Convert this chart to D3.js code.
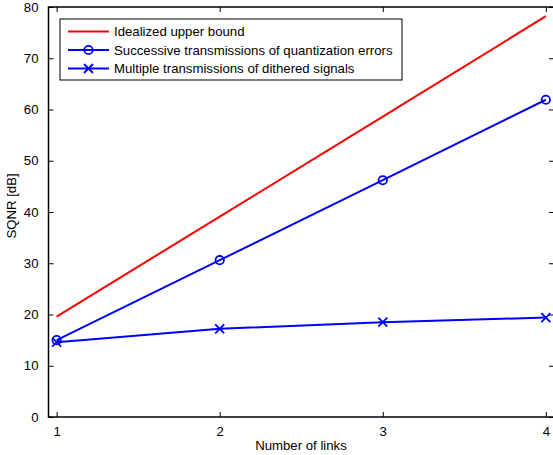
<!DOCTYPE html>
<html>
<head>
<meta charset="utf-8">
<script src="https://cdn.jsdelivr.net/npm/d3@7"></script>
<style>
  body { margin: 0; background: #fff; }
  text { font-family: "Liberation Sans", Arial, sans-serif; }
</style>
</head>
<body>
<div id="canvas"></div>
<script>
// DATA
const links = [1, 2, 3, 4];
const upperBound = [19.6, 39.1, 58.6, 78.2];
const successive = [15.0, 30.6, 46.2, 61.9];
const dithered = [14.6, 17.2, 18.5, 19.4];
const yTicks = [0, 10, 20, 30, 40, 50, 60, 70, 80];
const seriesNames = [
  "Idealized upper bound",
  "Successive transmissions of quantization errors",
  "Multiple transmissions of dithered signals"
];

// DIMENSIONS
const width = 553;
const height = 455;
const margin = { top: 7, right: -1, bottom: 38, left: 48.5 };
const fontSize = "13.2px";

const svg = d3.select("#canvas")
  .append("svg")
  .attr("width", width)
  .attr("height", height);

// SCALES
const x = d3.scaleLinear().domain([0.95, 4.05]).range([margin.left, width - margin.right]);
const y = d3.scaleLinear().domain([0, 80]).range([height - margin.bottom, margin.top]);

const x0 = margin.left, x1 = width - margin.right;
const y0 = height - margin.bottom, y1 = margin.top;

// AXES (ticks inside, on all four sides)
const tick = 5;
const axisStyle = g => {
  g.select(".domain").remove();
  g.selectAll("line").attr("stroke", "#000").attr("stroke-width", 1);
  g.selectAll("text").attr("fill", "#000").style("font-size", fontSize);
};

svg.append("g")
  .attr("transform", `translate(0,${y0})`)
  .call(d3.axisBottom(x).tickValues(links).tickFormat(d3.format("d")).tickSizeInner(-tick).tickPadding(10))
  .call(axisStyle);

svg.append("g")
  .attr("transform", `translate(0,${y1})`)
  .call(d3.axisTop(x).tickValues(links).tickFormat("").tickSizeInner(-tick))
  .call(axisStyle);

svg.append("g")
  .attr("transform", `translate(${x0},0)`)
  .call(d3.axisLeft(y).tickValues(yTicks).tickSizeInner(-tick).tickPadding(10))
  .call(axisStyle);

svg.append("g")
  .attr("transform", `translate(${x1},0)`)
  .call(d3.axisRight(y).tickValues(yTicks).tickFormat("").tickSizeInner(-tick))
  .call(axisStyle);

// box
svg.append("rect")
  .attr("x", x0).attr("y", y1)
  .attr("width", x1 - x0).attr("height", y0 - y1)
  .attr("fill", "none").attr("stroke", "#000").attr("stroke-width", 1.5);

// LABELS
svg.append("text")
  .attr("x", 301).attr("y", 450)
  .attr("text-anchor", "middle")
  .style("font-size", fontSize)
  .text("Number of links");

svg.append("text")
  .attr("transform", `translate(15.5,206) rotate(-90)`)
  .attr("text-anchor", "middle")
  .style("font-size", fontSize)
  .text("SQNR [dB]");

// LINES
const line = d3.line().x((d, i) => x(links[i])).y(d => y(d));

const series = [
  { values: upperBound, color: "#ff0000", marker: "none" },
  { values: successive, color: "#0000ff", marker: "circle" },
  { values: dithered, color: "#0000ff", marker: "cross" }
];

function drawMarker(g, kind, cx, cy, color) {
  if (kind === "circle") {
    g.append("circle").attr("cx", cx).attr("cy", cy).attr("r", 4.2)
      .attr("fill", "none").attr("stroke", color).attr("stroke-width", 1.8);
  } else if (kind === "cross") {
    const s = 4.5;
    g.append("path")
      .attr("d", `M${cx - s},${cy - s}L${cx + s},${cy + s}M${cx - s},${cy + s}L${cx + s},${cy - s}`)
      .attr("stroke", color).attr("stroke-width", 1.8).attr("fill", "none");
  }
}

const plot = svg.append("g");
series.forEach(s => {
  plot.append("path")
    .attr("d", line(s.values))
    .attr("fill", "none")
    .attr("stroke", s.color)
    .attr("stroke-width", 2);
  s.values.forEach((v, i) => drawMarker(plot, s.marker, x(links[i]), y(v), s.color));
});

// LEGEND
const legend = svg.append("g");
legend.append("rect")
  .attr("x", 60).attr("y", 19).attr("width", 342).attr("height", 61)
  .attr("fill", "#fff").attr("stroke", "#000").attr("stroke-width", 1);

series.forEach((s, i) => {
  const ly = 31.5 + i * 18.5;
  legend.append("line")
    .attr("x1", 68).attr("x2", 109).attr("y1", ly).attr("y2", ly)
    .attr("stroke", s.color).attr("stroke-width", 2);
  drawMarker(legend, s.marker, 88.5, ly, s.color);
  legend.append("text")
    .attr("x", 114).attr("y", ly + 4.5)
    .style("font-size", fontSize)
    .text(seriesNames[i]);
});
</script>
</body>
</html>
